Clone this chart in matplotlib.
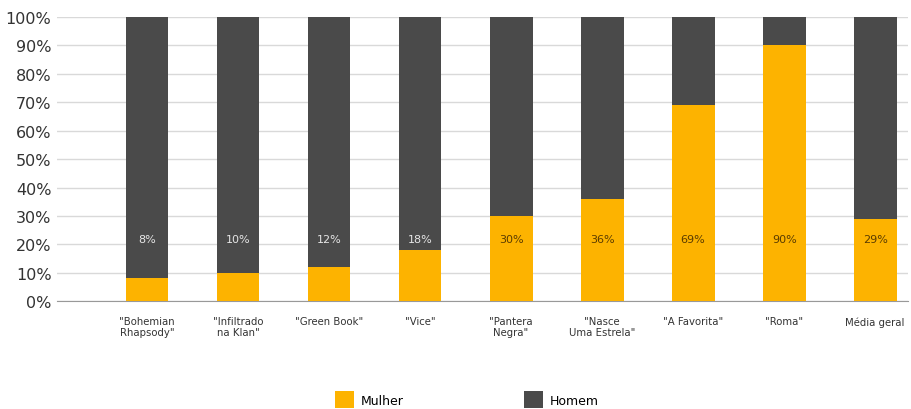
import matplotlib.pyplot as plt
import numpy as np

plt.rcParams['font.family'] = ['DejaVu Sans']

# filmes indicados e percentual de mulheres / homens
filmes = ['"Bohemian\nRhapsody"', '"Infiltrado\nna Klan"', '"Green Book"', '"Vice"',
          '"Pantera\nNegra"', '"Nasce\nUma Estrela"', '"A Favorita"', '"Roma"', 'Média geral']
mulher = [8, 10, 12, 18, 30, 36, 69, 90, 29]
homem = [100 - m for m in mulher]
y_ticks = [0, 10, 20, 30, 40, 50, 60, 70, 80, 90, 100]

amarelo = '#FDB300'
cinza = '#4A4A4A'

fig = plt.figure(figsize=(9.12, 4.10), dpi=100)
ax = fig.add_axes([0.0625, 0.263, 0.933, 0.693])

x = np.arange(len(filmes))
b1 = ax.bar(x, mulher, width=0.47, color=amarelo, label='Mulher', zorder=3)
b2 = ax.bar(x, homem, width=0.47, bottom=mulher, color=cinza, label='Homem', zorder=3)

# rotulos dentro das barras
for i, m in enumerate(mulher):
    cor = '#5a3c00' if m >= 25 else '#e6e6e6'
    ax.text(x[i], 22, f'{m}%', ha='center', va='center', fontsize=8, color=cor, zorder=4)

ax.set_xlim(-0.99, 8.36)
ax.set_ylim(0, 100)
ax.set_yticks(y_ticks)
ax.set_yticklabels([f'{t}%' for t in y_ticks], fontsize=11.5, color='#333333')
ax.set_xticks(x)
ax.set_xticklabels(filmes, fontsize=7.3, color='#333333', linespacing=1.1)
ax.tick_params(axis='both', length=0)
ax.tick_params(axis='x', pad=11)
ax.tick_params(axis='y', pad=4)

ax.yaxis.grid(True, color='#d9d9d9', linewidth=1, zorder=0)
for s in ['top', 'right', 'left']:
    ax.spines[s].set_visible(False)
ax.spines['bottom'].set_color('#999999')

fig.legend(handles=[b1, b2], loc='lower center', bbox_to_anchor=(0.512, -0.025), ncol=2,
           frameon=False, fontsize=9, handlelength=1.5, handleheight=1.7,
           columnspacing=9.6, handletextpad=0.6)

fig.savefig('out.png', dpi=100)
